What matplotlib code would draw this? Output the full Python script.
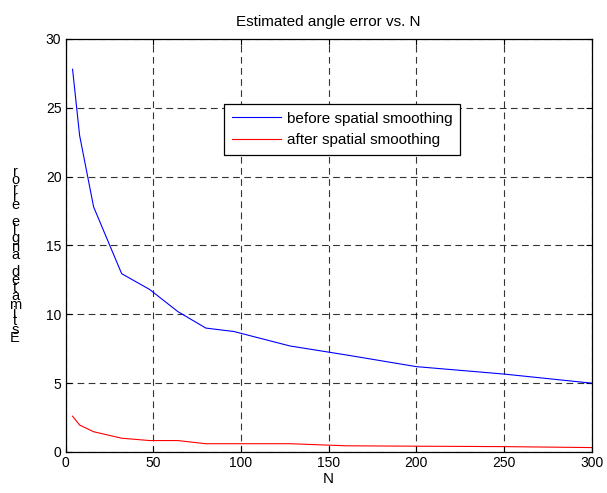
import matplotlib
matplotlib.use("Agg")
import matplotlib.pyplot as plt

# values
n_values = [4, 8, 16, 32, 48, 64, 80, 96, 128, 160, 200, 250, 300]
err_before = [27.8, 23.0, 17.8, 12.95, 11.8, 10.2, 9.0, 8.75, 7.7, 7.05, 6.2, 5.66, 5.0]
err_after = [2.6, 1.96, 1.47, 1.0, 0.83, 0.83, 0.6, 0.6, 0.6, 0.45, 0.42, 0.39, 0.32]
series_labels = ["before spatial smoothing", "after spatial smoothing"]
x_ticks = [0, 50, 100, 150, 200, 250, 300]
y_ticks = [0, 5, 10, 15, 20, 25, 30]
ylabel_text = "Estimated angle error"

plt.rcParams["font.family"] = ["Liberation Sans", "DejaVu Sans"]
plt.rcParams["font.size"] = 10

fig = plt.figure(figsize=(6.07, 4.93), dpi=100)
ax = fig.add_axes([0.108, 0.0832, 0.8666, 0.8378])

ax.plot(n_values, err_before, color="blue", lw=0.8, label=series_labels[0])
ax.plot(n_values, err_after, color="red", lw=0.8, label=series_labels[1])

ax.set_xlim(0, 300)
ax.set_ylim(0, 30)
ax.set_xticks(x_ticks)
ax.set_yticks(y_ticks)
ax.tick_params(direction="in", length=4, top=True, right=True, pad=3)
ax.grid(True, color="k", linestyle=(0, (6, 4)), lw=0.8, alpha=0.8)
for sp in ax.spines.values():
    sp.set_linewidth(0.9)

ax.set_title("Estimated angle error vs. N", fontsize=11, pad=9)
ax.set_xlabel("N", fontsize=11, labelpad=1)

# the reference shows the y label with upright letters stacked bottom to top
stacked = "\n".join(reversed(ylabel_text))
fig.text(15 / 607, 1 - 255 / 493, stacked, ha="center", va="center",
         fontsize=10.5, linespacing=0.48)

leg = ax.legend(loc="upper left", bbox_to_anchor=(224 / 607, 1 - 104 / 493),
                bbox_transform=fig.transFigure, borderaxespad=0,
                fancybox=False, edgecolor="black", framealpha=1, fontsize=11,
                handlelength=3.2, handletextpad=0.4, borderpad=0.5,
                labelspacing=0.5)
leg.get_frame().set_linewidth(0.9)

fig.savefig("out.png", dpi=100)
